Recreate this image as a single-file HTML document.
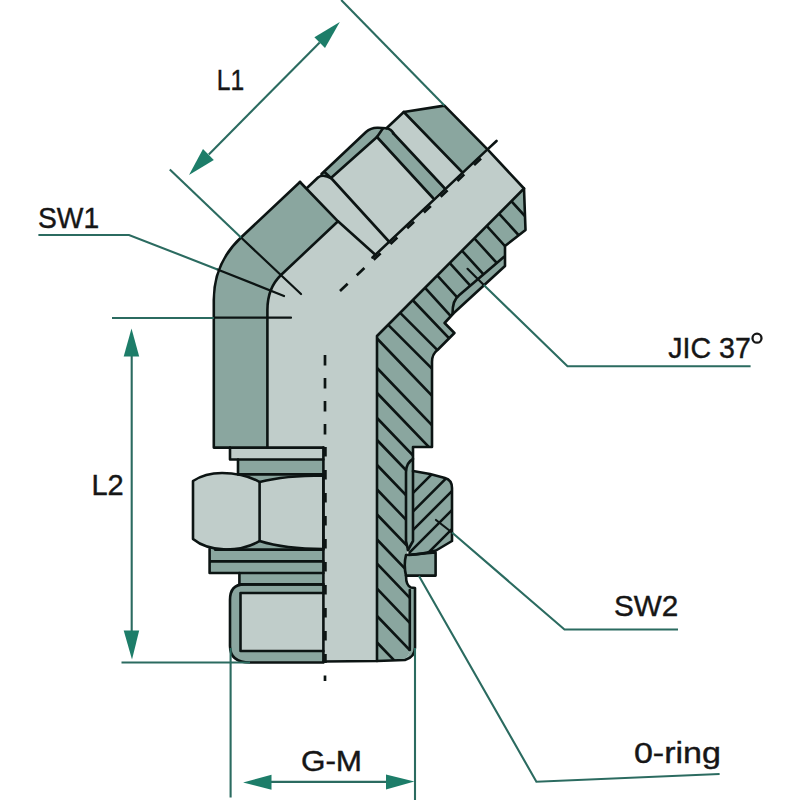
<!DOCTYPE html>
<html>
<head>
<meta charset="utf-8">
<title>45° elbow fitting</title>
<style>
html,body{margin:0;padding:0;background:#fff;}
body{width:800px;height:800px;overflow:hidden;font-family:"Liberation Sans",sans-serif;}
svg{display:block;}
.k{stroke:#0c1413;stroke-width:2.6;fill:none;stroke-linejoin:round;stroke-linecap:round;}
.kb{stroke:#0c1413;stroke-width:2.7;fill:none;stroke-linejoin:round;stroke-linecap:butt;}
.g{stroke:#2b6b60;stroke-width:2.1;fill:none;stroke-linecap:butt;stroke-linejoin:miter;}
.a{fill:#1d7d69;stroke:none;}
.L{fill:#c0cdca;}
.D{fill:#8aa69f;}
.h{stroke:#0c1413;stroke-width:2.6;fill:none;}
text{font-family:"Liberation Sans",sans-serif;fill:#161616;stroke:#161616;stroke-width:0.4;}
</style>
</head>
<body>
<svg width="800" height="800" viewBox="0 0 800 800">
<rect width="800" height="800" fill="#ffffff"/>
<defs>
<clipPath id="cBody">
<path d="M524,188.5 L525.5,230 L505,246 L503.8,257 L458.8,295.6 Q452.5,300 452.5,313.7 L444.6,323 L454.4,333 L437.5,350 Q432,354 432,362 L432,447 L413,447 L413,459 Q406,463 406,472 L406,541 L408,550 Q403,563 406,575 Q406,586 411,587.5 L409.8,591 L409.8,650 Q409,659 401,660.5 L377,661 L377,336.3 Z"/>
</clipPath>
<clipPath id="cNut">
<path d="M413,471 L430,474 L445,478 Q452,480 452,488 L452,541 L436,550.5 Q424,554 409,555 L408,550 L413,541 Z"/>
</clipPath>
</defs>

<!-- ===== light silhouette of main body (upper arm + elbow + bore) ===== -->
<path class="L" d="M300,182 L307.5,187.5 L321.5,174 L366,132 Q371,127.5 378,127.8 L386.5,128.3 L403.8,112 L444.4,105.6 L487.5,149.4 L524,188.5 L377,336 L377,661 L323,661 L323,447.6 L213.8,447.6 L213.8,300 Q213.8,263 241,237.5 Z"/>

<!-- ===== dark faces, upper arm ===== -->
<!-- elbow dark band -->
<path class="D" d="M300,182 L241,237.5 Q213.8,263 213.8,300 L213.8,447.6 L267.4,447.6 L267.4,310 Q267.4,288 281,275 L338,221.3 Z"/>
<!-- hex chamfer strip (outer, along axis) -->
<path class="D" d="M321.5,174 L366,132 Q371,127.5 378,127.8 L386.5,128.3 L377,137 L331.5,177.5 L324.5,172 Z"/>
<path class="D" d="M318,177.5 L321.5,174 L324.5,172 L331.5,178.5 Q323,173.5 318,177.5 Z"/>
<!-- hex right chamfer strip -->
<path class="D" d="M377,137 L386.5,128.3 Q391,129 393,133 L444.4,188 L433,198 Z"/>
<!-- 37deg cone -->
<path class="D" d="M403.8,112 L444.4,105.6 L487.5,149.4 L462,172 Z"/>

<!-- ===== section (hatched) ===== -->
<path class="D" d="M524,188.5 L525.5,230 L505,246 L505,266 L453.8,313 L444.6,323 L454.4,333 L437.5,350 Q432,354 432,362 L432,447 L413,447 L413,459 Q406,463 406,472 L406,541 L408,550 Q403,563 406,575 Q406,586 411,587.5 L409.8,591 L409.8,650 Q409,659 401,660.5 L377,661 L377,336.3 Z"/>
<g clip-path="url(#cBody)" class="h">
<path d="M420.1,282.4 L505.1,375.9 M432.4,270.1 L517.5,363.6 M444.8,257.7 L529.8,351.2 M457.1,245.3 L542.1,338.9 M469.5,233.0 L554.5,326.5 M481.9,220.7 L566.9,314.1 M494.2,208.3 L579.2,301.8 M506.6,195.9 L591.5,289.4 M407.8,295.0 L492.8,384.2 M395.2,307.8 L480.2,392.8 M383.2,319.8 L468.2,404.8 M372.0,333.3 L447.0,411.3 M372.0,362.8 L447.0,440.8 M372.0,387.8 L447.0,465.8 M372.0,412.8 L447.0,490.8 M372.0,434.8 L447.0,512.8 M372.0,459.8 L447.0,537.8 M372.0,484.3 L447.0,562.3 M372.0,509.3 L447.0,587.3 M372.0,534.3 L447.0,612.3 M372.0,558.5 L447.0,636.5 M372.0,583.5 L447.0,661.5 M372.0,610.8 L447.0,688.8 M372.0,637.3 L447.0,715.3"/>
</g>
<!-- thread strip on stud (dark, no hatch) -->
<path class="D" d="M409.8,588 L415,588 L415,647.5 Q415,657 405,660 L401,660.5 Q409,659 409.8,650 Z"/>
<!-- thread strip at nut -->
<path class="D" d="M413,459 Q406,463 406,472 L406,541 L408,550 L413,541 Z"/>

<!-- nut section -->
<path class="D" d="M413,471 L430,474 L445,478 Q452,480 452,488 L452,541 L436,550.5 Q424,554 409,555 L408,550 L413,541 Z"/>
<g clip-path="url(#cNut)" class="h">
<path d="M506,400 L306,600 M524.5,400 L324.5,600 M543,400 L343,600 M562,400 L362,600 M581,400 L381,600 M600,400 L400,600"/>
</g>
<!-- o-ring / washer -->
<path class="D" d="M406,555 L435.6,552.5 L435.6,575.6 L406,575.6 Q403.5,565 406,555 Z"/>

<!-- ===== lower exterior (left of axis) ===== -->
<!-- collar -->
<rect class="L" x="230" y="447.6" width="93.4" height="12"/>
<!-- dark band b + spandrel -->
<rect class="D" x="238" y="459" width="85.4" height="25"/>
<!-- bands under nut -->
<rect class="D" x="209.6" y="538" width="113.8" height="35"/>
<rect class="D" x="239.4" y="573" width="84" height="12"/>
<!-- stud -->
<path class="D" d="M323.4,584.4 L244,584.4 Q230,584.4 230,600 L230,646 Q230,662.5 250,662.5 L323.4,662.5 Z"/>
<rect class="L" x="240.5" y="593" width="83" height="58"/>
<!-- nut -->
<path class="L" d="M193,481 Q205,473 222,473 Q245,473.5 259.6,482 Q285,475.5 323.4,475.5 L323.4,549 Q285,549 259.6,541 Q245,549.5 226,549.6 Q205,549 193,539 Z"/>

<!-- ===== black outlines ===== -->
<g class="k">
<!-- elbow outer -->
<path d="M300,182 L241,237.5 Q213.8,263 213.8,300 L213.8,447.6 L323.4,447.6"/>
<path d="M267.4,447.6 L267.4,310 Q267.4,288 281,275 L338,221.3"/>
<!-- shoulder -->
<path d="M300,182 L338,221.3 L375.6,255"/>
<!-- neck -->
<path d="M307.5,187.5 L318,177.5 Q323,173.5 331.5,178.5"/>
<!-- hex outer -->
<path d="M321.5,174 L366,132 Q371,127.5 378,127.8 L386.5,128.3 Q391,129 393.5,133.5"/>
<path d="M331.5,177.5 L377,137"/>
<path d="M324.5,172 L331.5,178.5 L389.4,242"/>
<path d="M377,137 L433,198"/>
<path d="M393,133 L444.4,188"/>
<!-- flange -->
<path d="M386.5,128.3 L403.8,112 L444.4,105.6 L487.5,149.4 L524,188.5 L525.5,230 L505,246 L505,266 L453.8,313 L444.6,323 L454.4,333 L437.5,350 Q432,354 432,362 L432,447 L413,447 L413,541 L408,550"/>
<path d="M503.8,257 L458.8,295.6 Q452.5,300 452.5,313.7"/>
<path d="M377,137 L383,128.3"/>
<path d="M403.8,112 L462,172"/>
<!-- axis section edge -->
<path d="M372.5,257.5 L487.5,149.4 L496.5,141"/>
<!-- bore -->
<path d="M524,188.5 L377,336 L377,661"/>
<!-- thread line near nut -->
<path d="M413,459 Q406,463 406,472 L406,541 L408,550"/>
<!-- nut section outline -->
<path d="M413,471 L430,474 L445,478 Q452,480 452,488 L452,541 L436,550.5 Q424,554 409,555"/>
<!-- o-ring -->
<path d="M406,555 L435.6,552.5 L435.6,575.6 L406,575.6 Q403.5,565 406,555 Z"/>
<!-- below o-ring -->
<path d="M406,575.6 Q406,586 411,587.5 L415,588 L415,647.5 Q415,657 405,660 L377,661 L323.4,661.5"/>
<path d="M409.8,590 L409.8,650"/>
<!-- lower left -->
<path d="M323.4,447.6 L323.4,662"/>
<path d="M230,447.6 L230,459.5 L323.4,459.5"/>
<path d="M238,459.5 L238,474.4 L323.4,474.4"/>
<path d="M193,481 Q205,473 222,473 Q245,473.5 259.6,482 Q285,475.5 323.4,475.5 L323.4,549 Q285,549 259.6,541 Q245,549.5 226,549.6 Q205,549 193,539 Z"/>
<path d="M259.6,482 L259.6,541"/>
<path d="M209.6,549 L209.6,573 L323.4,573 M209.6,561.4 L323.4,561.4 M215,549.6 L323.4,549.6"/>
<path d="M239.4,573 L239.4,584.4 L323.4,584.4"/>
<path d="M323.4,584.4 L244,584.4 Q230,584.4 230,600 L230,646 Q230,662.5 250,662.5 L323.4,662.5"/>
<path d="M323.4,593 L240.5,593 L240.5,651 L323.4,651"/>
<!-- leader black portions -->
</g>
<g class="k" style="stroke-width:2.2">
<path d="M241,237.5 L301,294"/>
<path d="M217.5,269.4 L284,296"/>
<path d="M213.8,317.7 L291,317.7"/>
<path d="M467.5,268.8 L483.8,285"/>
<path d="M436,520 L452,532.5"/>
</g>
<!-- axis dashes -->
<path class="kb" d="M325,355 L325,447" stroke-dasharray="10.5 12.5" stroke-width="2.3"/>
<path class="kb" d="M325.4,447 L325.4,663" stroke-dasharray="9.5 13.5" stroke-width="3.2"/>
<path class="kb" d="M325,675.5 L325,681" stroke-width="2.3"/>
<path class="kb" d="M340,291 L373.5,259.5" stroke-dasharray="10.5 12.5" stroke-width="2.3"/>
<path class="kb" d="M373.7,259.8 L486,153.9" stroke-dasharray="9.5 13.5" stroke-width="3.2"/>

<!-- ===== green dimension lines ===== -->
<g class="g">
<path d="M169.8,169.4 L241,237.5"/>
<path d="M341.2,0 L444.4,105.6"/>
<path d="M208.8,154.4 L319.7,42.6"/>
<path d="M38.4,235 L129,235 L217.5,269.4"/>
<path d="M112,318 L213.8,318"/>
<path d="M131.7,355 L131.7,632"/>
<path d="M121.5,662.5 L250,662.5"/>
<path d="M230.6,648 L230.6,797.5"/>
<path d="M415,648 L415,800"/>
<path d="M270,781.9 L387,781.9"/>
<path d="M483.8,285 L567.5,366.3 L750.6,366.3"/>
<path d="M452,532.5 L564.5,629.5 L678,629.5"/>
<path d="M419,576 L536.4,781.7 L719.6,774"/>
</g>
<g class="a">
<path d="M189,175 L203,149 L213.8,160 Z"/>
<path d="M339.8,22 L314.4,37.2 L325,48 Z"/>
<path d="M131.5,328.5 L123.7,356.5 L139.2,356.5 Z"/>
<path d="M132,659.4 L123.7,630.6 L139.2,630.6 Z"/>
<path d="M243.1,782.4 L271.5,774.7 L271.5,789.8 Z"/>
<path d="M414.4,781.5 L386,774.4 L386,789.4 Z"/>
</g>

<!-- ===== labels ===== -->
<text x="216.7" y="90" font-size="29" textLength="27.4" lengthAdjust="spacingAndGlyphs">L1</text>
<text x="37.9" y="228" font-size="29" textLength="61.2" lengthAdjust="spacingAndGlyphs">SW1</text>
<text x="91.4" y="495" font-size="29" textLength="32.3" lengthAdjust="spacingAndGlyphs">L2</text>
<text x="668.3" y="358.4" font-size="30" textLength="82.5" lengthAdjust="spacingAndGlyphs">JIC 37</text>
<circle cx="757" cy="338.2" r="4.5" fill="none" stroke="#161616" stroke-width="2.3"/>
<text x="613.9" y="616.2" font-size="29" textLength="64.3" lengthAdjust="spacingAndGlyphs">SW2</text>
<text x="633.9" y="763" font-size="29" textLength="87" lengthAdjust="spacingAndGlyphs">0-ring</text>
<text x="300.9" y="770.6" font-size="29" textLength="61.2" lengthAdjust="spacingAndGlyphs">G-M</text>
</svg>
</body>
</html>
